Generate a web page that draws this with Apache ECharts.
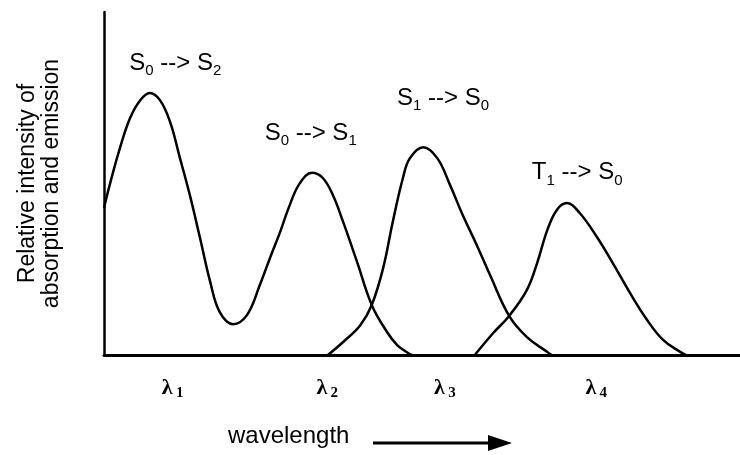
<!DOCTYPE html>
<html>
<head>
<meta charset="utf-8">
<script src="https://cdn.jsdelivr.net/npm/echarts@6/dist/echarts.min.js"></script>
<style>
  html, body { margin: 0; padding: 0; background: #fff; }
  #chart { width: 740px; height: 455px; }
</style>
</head>
<body>
<div id="chart"></div>
<script>
// absorption curve (S0 -> S2 and S0 -> S1), [wavelength, intensity]
const absorption = [
  [0, 42.9], [0.9, 49.6], [2.5, 60.3], [4.1, 69.1], [5.7, 74.3], [7.2, 76.4],
  [8.8, 74.3], [10.4, 67.9], [11.9, 57.7], [13.5, 46.6], [15.1, 34.1],
  [16.7, 21.3], [18.2, 12.5], [20.3, 9.0], [22.5, 11.7], [24.5, 20.4],
  [26.1, 28.3], [27.7, 35.9], [29.2, 43.7], [30.8, 50.1], [32.7, 53.1],
  [34.4, 51.6], [36.0, 46.6], [37.6, 38.8], [39.8, 27.1], [42.1, 14.6],
  [44.5, 6.7], [46.1, 2.9], [47.8, 0.6], [48.4, 0]
]
// fluorescence S1 -> S0
const fluorescence = [
  [35.2, 0], [37.6, 3.8], [40.3, 8.7], [42.1, 14.6], [43.9, 25.4], [45.4, 38.8],
  [47.0, 51.6], [48.1, 57.4], [50.2, 60.6], [52.4, 57.4], [54.4, 49.6],
  [56.4, 40.8], [58.6, 32.1], [60.7, 23.3], [63.7, 11.4], [66.5, 5.2],
  [69.7, 0.9], [70.4, 0]
]
// phosphorescence T1 -> S0
const phosphorescence = [
  [58.3, 0], [61.2, 6.4], [63.7, 11.4], [66.5, 19.0], [68.1, 26.8], [69.7, 36.4],
  [71.2, 42.3], [72.8, 44.3], [74.8, 41.4], [77.5, 34.4], [80.0, 26.8],
  [82.7, 18.1], [85.4, 10.2], [87.9, 4.4], [90.6, 0.9], [91.5, 0]
]

const tickValues = [10.8, 35.1, 53.6, 77.4]
const tickLabels = ['1', '2', '3', '4']

const font = 'Liberation Sans, Arial, sans-serif'
const richTrans = {
  s: { fontSize: 24, fontFamily: font, color: '#000', lineHeight: 30 },
  b: { fontSize: 15, fontFamily: font, color: '#000', lineHeight: 14, verticalAlign: 'bottom' }
}

function transLabel(a, ai, b, bi) {
  return '{s|' + a + '}{b|' + ai + '}{s| --> ' + b + '}{b|' + bi + '}'
}

function noteAt(coord, text) {
  return {
    coord: coord,
    symbolSize: 0,
    label: { show: true, position: 'inside', formatter: text, rich: richTrans }
  }
}

const curve = {
  type: 'line',
  smooth: 0.4,
  showSymbol: false,
  lineStyle: { color: '#000', width: 2.5 },
  emphasis: { disabled: true },
  silent: true
}

const chart = echarts.init(document.getElementById('chart'))
chart.setOption({
  animation: false,
  grid: { left: 104, right: 0, top: 12, bottom: 100, outerBoundsMode: 'none', containLabel: false },
  xAxis: {
    type: 'value',
    min: 0,
    max: 100,
    splitLine: { show: false },
    axisTick: { show: false },
    axisLine: { lineStyle: { color: '#000', width: 3 } },
    axisLabel: {
      customValues: tickValues,
      margin: 20,
      formatter: function (v) {
        const i = tickValues.indexOf(v)
        return '{l|λ} {n|' + tickLabels[i] + '}'
      },
      rich: {
        l: { fontSize: 22, fontFamily: 'Liberation Serif, serif', fontWeight: 'bold', color: '#000', lineHeight: 26 },
        n: { fontSize: 15, fontFamily: 'Liberation Serif, serif', fontWeight: 'bold', color: '#000', lineHeight: 15, verticalAlign: 'bottom' }
      }
    }
  },
  yAxis: {
    type: 'value',
    min: 0,
    max: 100,
    name: 'Relative intensity of\nabsorption and emission',
    nameLocation: 'middle',
    nameRotate: 90,
    nameGap: 40,
    nameTextStyle: { fontSize: 23, fontFamily: font, color: '#000', lineHeight: 24 },
    splitLine: { show: false },
    axisTick: { show: false },
    axisLabel: { show: false },
    axisLine: { show: true, lineStyle: { color: '#000', width: 2.5 } }
  },
  series: [
    Object.assign({}, curve, {
      data: absorption,
      markPoint: {
        silent: true,
        data: [
          noteAt([11.2, 85.1], transLabel('S', '0', 'S', '2')),
          noteAt([32.5, 64.7], transLabel('S', '0', 'S', '1'))
        ]
      }
    }),
    Object.assign({}, curve, {
      data: fluorescence,
      markPoint: {
        silent: true,
        data: [noteAt([53.3, 74.9], transLabel('S', '1', 'S', '0'))]
      }
    }),
    Object.assign({}, curve, {
      data: phosphorescence,
      markPoint: {
        silent: true,
        data: [noteAt([74.4, 53.1], transLabel('T', '1', 'S', '0'))]
      }
    })
  ],
  graphic: [
    {
      type: 'text',
      left: 228,
      top: 424,
      style: { text: 'wavelength', fontSize: 24, fontFamily: font, fill: '#000' }
    },
    {
      type: 'line',
      shape: { x1: 373, y1: 443, x2: 492, y2: 443 },
      style: { stroke: '#000', lineWidth: 3 }
    },
    {
      type: 'polygon',
      shape: { points: [[488, 435], [512, 443], [488, 451]] },
      style: { fill: '#000' }
    }
  ]
})
</script>
</body>
</html>
